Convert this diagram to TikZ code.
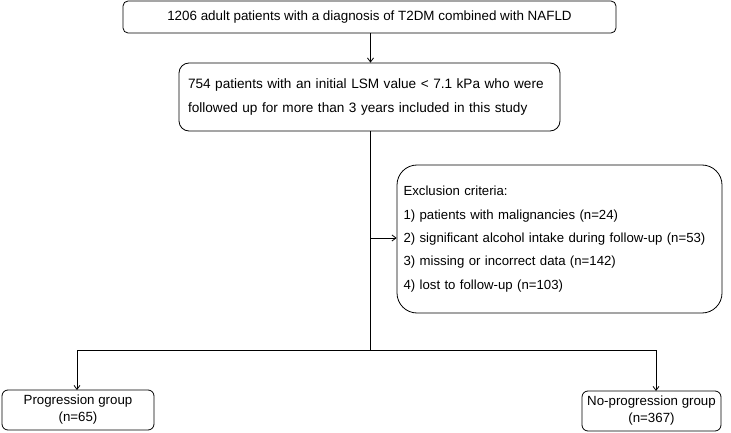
\documentclass[tikz,border=0pt]{standalone}
\usepackage{fontspec}
\setmainfont{Liberation Sans}
\usetikzlibrary{arrows.meta}
\begin{document}
\begin{tikzpicture}[x=1pt,y=1pt,
  box/.style={draw=black,line width=0.8pt,inner sep=0pt,font=\fontsize{13.4}{16}\selectfont},
  conn/.style={line width=0.8pt,draw=black},
  arr/.style={conn,-{Straight Barb[length=4pt,width=6pt]}}]
\useasboundingbox (0,0) rectangle (731,-433);
\node[box,rounded corners=5pt,minimum width=493,minimum height=32] (n1) at (369.5,-17)
  {1206 adult patients with a diagnosis of T2DM combined with NAFLD};
\node[box,rounded corners=10pt,minimum width=381,minimum height=68,align=left,text width=363,
  font=\fontsize{13.6}{24}\selectfont] (n2) at (369.5,-97)
  {754 patients with an initial LSM value < 7.1 kPa who were\\followed up for more than 3 years included in this study};
\node[box,rounded corners=20pt,minimum width=325,minimum height=148,align=left,text width=312,
  font=\fontsize{13.2}{23.3}\selectfont] (n3) at (559.5,-239)
  {Exclusion criteria:\\1) patients with malignancies (n=24)\\2) significant alcohol intake during follow-up (n=53)\\3) missing or incorrect data (n=142)\\4) lost to follow-up (n=103)};
\node[box,rounded corners=6pt,minimum width=152,minimum height=40,align=center,
  font=\fontsize{13.3}{17}\selectfont] (n4) at (78,-410)
  {Progression group\\(n=65)};
\node[box,rounded corners=6pt,minimum width=139,minimum height=40,align=center,
  font=\fontsize{13.3}{17}\selectfont] (n5) at (651.5,-411)
  {No-progression group\\(n=367)};
\coordinate (split) at (370.5,-350);
\coordinate (branch) at (370.5,-238);
\coordinate (t4) at (77,-390);
\coordinate (t5) at (656,-391);
\draw[arr] (n1.south -| split) -- (n2.north -| split);
\draw[conn] (n2.south -| split) -- (split);
\draw[arr] (branch) -- (branch -| n3.west);
\draw[arr] (split) -| (t4);
\draw[arr] (split) -| (t5);
\end{tikzpicture}
\end{document}
